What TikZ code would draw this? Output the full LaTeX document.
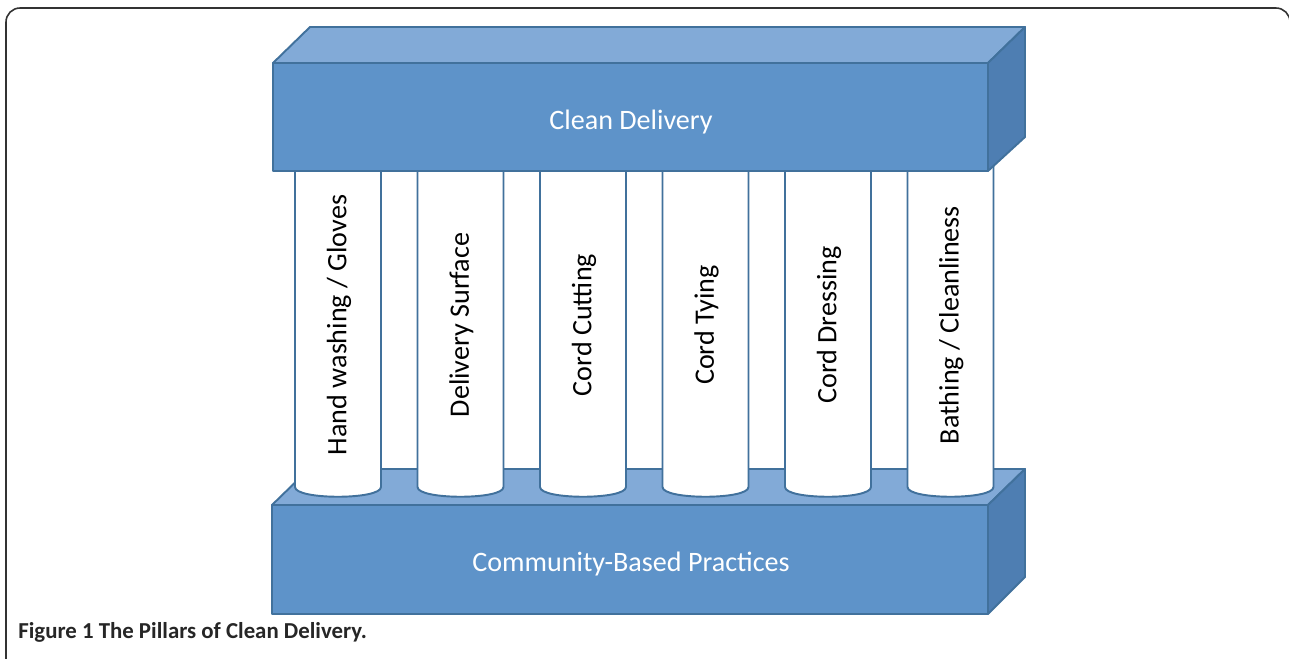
\documentclass[tikz,border=0pt]{standalone}
\usepackage{fontspec}
\setmainfont{Carlito}
\usetikzlibrary{positioning}
\definecolor{slabfront}{HTML}{5E93C9}
\definecolor{slabtop}{HTML}{82AAD7}
\definecolor{slabside}{HTML}{4E7EB2}
\definecolor{slabedge}{HTML}{41719C}

\begin{document}
\begin{tikzpicture}[
    x=0.02cm, y=-0.02cm,
    node distance=2.45cm,
    on grid,
    every node/.style={inner sep=0pt},
    slab/.style={draw=slabedge, line width=1.1pt, line join=round},
    pillar/.style={draw=slabedge, line width=1.1pt, fill=white},
    slablabel/.style={text=white, font=\fontsize{16}{18}\selectfont},
    pillarlabel/.style={rotate=90, font=\fontsize{16}{18}\selectfont}
]
   \useasboundingbox (0,0) rectangle (1289,659);

   % Frame
   \draw[line width=0.9pt, black!80, rounded corners=8] (1290,22) -- (1290,8) -- (6,8) -- (6,668);

   % Base slab
   \draw[slab, fill=slabtop] (272,505) -- (309,469) -- (1025,469) -- (988,505) -- cycle;
   \draw[slab, fill=slabside] (988,505) -- (1025,469) -- (1025,577) -- (988,614) -- cycle;
   \draw[slab, fill=slabfront] (272,505) rectangle (988,614);

   % Pillars
   \draw[pillar] (295,150) -- (295,487) .. controls (295,500) and (381,500) .. (381,487) -- (381,150);
   \draw[pillar] (417.5,150) -- (417.5,487) .. controls (417.5,500) and (503.5,500) .. (503.5,487) -- (503.5,150);
   \draw[pillar] (540,150) -- (540,487) .. controls (540,500) and (626,500) .. (626,487) -- (626,150);
   \draw[pillar] (662.5,150) -- (662.5,487) .. controls (662.5,500) and (748.5,500) .. (748.5,487) -- (748.5,150);
   \draw[pillar] (785,150) -- (785,487) .. controls (785,500) and (871,500) .. (871,487) -- (871,150);
   \draw[pillar] (907.5,150) -- (907.5,487) .. controls (907.5,500) and (993.5,500) .. (993.5,487) -- (993.5,150);

   % Top slab
   \draw[slab, fill=slabtop] (273,63) -- (310,27) -- (1025,27) -- (988,63) -- cycle;
   \draw[slab, fill=slabside] (988,63) -- (1025,27) -- (1025,137) -- (988,171) -- cycle;
   \draw[slab, fill=slabfront] (273,63) rectangle (988,171);

   % Labels
   \node[slablabel] (top) at (631,122) {Clean Delivery};
   \node[slablabel] (base) at (631,564) {Community-Based Practices};

   \node[pillarlabel] (hand) at (339,325) {Hand washing / Gloves};
   \node[pillarlabel] (surface) [right=of hand] {Delivery Surface};
   \node[pillarlabel] (cutting) [right=of surface] {Cord Cutting};
   \node[pillarlabel] (tying) [right=of cutting] {Cord Tying};
   \node[pillarlabel] (dressing) [right=of tying] {Cord Dressing};
   \node[pillarlabel] (bathing) [right=of dressing] {Bathing / Cleanliness};

   % Caption
   \node[anchor=base west, font=\bfseries\fontsize{13}{15}\selectfont, text=black!85] (caption) at (18,638) {Figure 1 The Pillars of Clean Delivery.};
\end{tikzpicture}
\end{document}
